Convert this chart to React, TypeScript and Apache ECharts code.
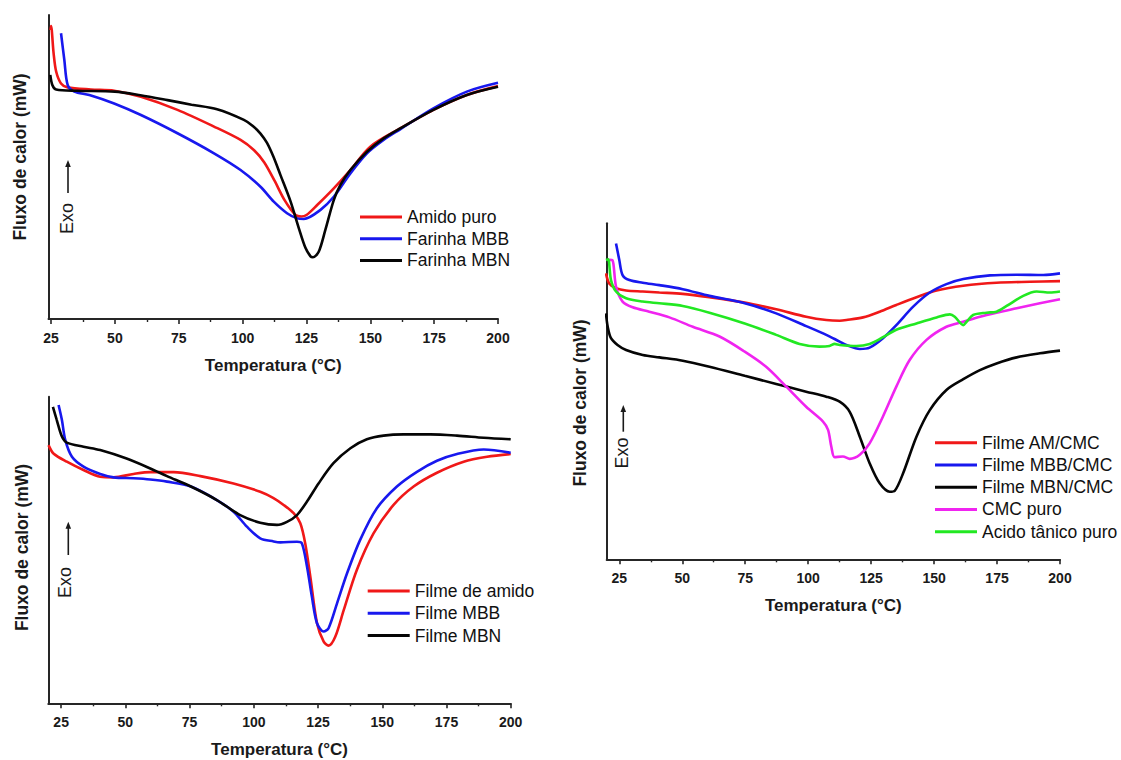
import React, { useEffect, useRef } from "react";
import * as echarts from "echarts";

// ---------- tick values ----------
const majorTicks = [25, 50, 75, 100, 125, 150, 175, 200];
const minorTicks = [37.5, 62.5, 87.5, 112.5, 137.5, 162.5, 187.5];

// ---------- panel 1 : flours ----------
const amidoPuro = [
  [24.8, 95], [25, 96.4], [26, 87.4], [27, 81.4], [28.9, 77.5], [31.5, 76.2], [40.6, 75.5],
  [49.7, 75.1], [60.2, 73.1], [74.5, 68.8], [88.8, 63.3], [99.2, 58.9], [104.5, 55.5],
  [108.5, 51.5], [112.5, 45.5], [116.5, 39], [120.7, 34.2], [123, 33.7], [125, 34.2],
  [129.2, 37.5], [135.7, 43], [142.2, 49], [150, 56.7], [161.7, 62.7], [174.7, 68.8],
  [187.8, 73.7], [200, 76.6],
];
const farinhaMBB = [
  [28.9, 94], [30.2, 85.2], [31.5, 77], [34.1, 74.8], [40, 73.7], [49.7, 70.9], [60.2, 67.1],
  [74.5, 61.1], [88.8, 54.5], [99.2, 49], [107, 43.5], [112.2, 38.6], [117.4, 34.8],
  [121.4, 33.1], [124, 32.9], [130.5, 35.9], [135.7, 40.2], [142.2, 47.9], [148.7, 54.5],
  [155.2, 58.9], [161.7, 62.4], [174.7, 69.3], [187.8, 74.8], [200, 77.7],
];
const farinhaMBN = [
  [24.7, 80.3], [25.5, 77], [27, 75.5], [35, 75.1], [50, 74.8], [60, 73.6], [70.6, 72],
  [80, 70.5], [90, 69], [100.5, 65.5], [104, 63.5], [107, 61], [109.5, 58], [112, 53.5],
  [114.8, 47.4], [118.8, 38.6], [122, 29.9], [124.6, 23.4], [126.6, 20.6], [127.5, 20.3],
  [129.8, 22.1], [132.4, 29.3], [135.7, 39.1], [138.3, 44.1], [142.2, 49], [148.7, 55],
  [155.2, 59.4], [161.7, 62.7], [174.7, 68.8], [187.8, 73.7], [200, 76.4],
];

// ---------- panel 2 : films ----------
const filmeAmido = [
  [20.1, 84.2], [22, 81.5], [27.2, 78.8], [33.7, 76.1], [40.2, 73.9], [45.4, 73.7],
  [53.2, 74.8], [59.7, 75.4], [68.8, 75.4], [79.2, 74.1], [92.1, 71.7], [102.5, 69],
  [107.5, 67], [111.6, 64.7], [115.5, 62], [118.1, 58.7], [120, 52.2], [122, 41.3],
  [124.6, 26.1], [127.2, 20.1], [129.1, 18.8], [131.7, 21.7], [135, 30.4], [140.1, 43.5],
  [146.6, 55.4], [154.4, 64.7], [162.2, 70.7], [171.3, 75.2], [181.7, 78.8], [190.8, 80.4],
  [200, 81.3],
];
const filmeMBB = [
  [24, 97.3], [25.3, 92.4], [26.6, 85.9], [29.2, 80.4], [33.7, 77.2], [40.2, 74.8],
  [45.4, 73.7], [53.2, 73.4], [59.7, 73], [66.2, 72.3], [75.5, 70.7], [85.6, 66.3],
  [92.1, 62.5], [97.3, 57.6], [102.5, 53.8], [107.7, 52.8], [110.3, 52.5], [116.8, 52.7],
  [118.7, 52.2], [120.7, 44.6], [122.6, 34.8], [124.6, 26.1], [127.2, 23.4], [129.1, 24.5],
  [132.4, 32.6], [136.3, 42.4], [141.4, 53.3], [147.9, 63.6], [155.7, 70.7], [163.5, 75.5],
  [171.3, 79.1], [179.1, 81.3], [189.5, 82.8], [200, 81.7],
];
const filmeMBN = [
  [21.8, 96.7], [23.3, 92.4], [25.3, 87], [27.2, 85], [33.7, 83.7], [40.2, 82.6],
  [50.2, 79.9], [59.7, 76.6], [66.2, 74.1], [75.5, 70.7], [85.6, 66.3], [94.7, 61.4],
  [102.5, 58.9], [109, 58.2], [112.9, 59.2], [116.8, 61.4], [120.7, 65.8], [125.2, 71.7],
  [131, 78.3], [137.6, 83.2], [144, 86.1], [150.5, 87.3], [158.3, 87.7], [168.7, 87.7],
  [179.1, 87.3], [189.5, 86.6], [200, 86.1],
];

// ---------- panel 3 : CMC films ----------
const filmeAMCMC = [
  [19.7, 85.1], [21, 82.1], [23.7, 80.7], [27.7, 80], [34.3, 79.7], [40.9, 79.4],
  [50.2, 79], [60.8, 78], [74.8, 76.4], [87.3, 74.4], [99.2, 72.2], [107.2, 71.2],
  [112.5, 71], [115.2, 71.2], [121.8, 72], [128.4, 73.7], [135, 75.7], [143, 78],
  [151, 80], [161.6, 81.4], [174.8, 82.3], [188.1, 82.6], [200, 82.8],
];
const filmeMBBCMC = [
  [23.7, 94], [25, 89.1], [26.3, 84.6], [29, 83.1], [34.3, 82.3], [40.9, 81.6], [50.2, 80.4],
  [60.8, 78.4], [74.8, 76.2], [87.3, 73.2], [99.2, 69.4], [107.2, 66.8], [112.5, 64.8],
  [115.2, 63.8], [120.5, 62.6], [124.4, 63], [129.7, 65.8], [135, 69.7], [141.7, 75.2],
  [148.3, 79.4], [154.9, 81.9], [161.6, 83.4], [172.2, 84.5], [182.8, 84.7], [193.4, 84.6],
  [200, 85.1],
];
const filmeMBNCMC = [
  [19.7, 73.2], [20.4, 69.2], [21.7, 65.8], [24.3, 63.8], [27.7, 62.3], [34.3, 60.8],
  [40.9, 60.1], [50.2, 59.1], [60.8, 57.3], [74.8, 54.6], [87.3, 52.2], [99.2, 49.9],
  [107.2, 48.4], [112.5, 46.9], [116.5, 43.9], [120.5, 36.5], [124.4, 28.6], [128.4, 22.6],
  [132.4, 20.1], [134.4, 20.4], [137.7, 25.6], [143, 36.5], [148.3, 44.4], [154.9, 50.4],
  [161.6, 53.6], [168.2, 56.3], [174.8, 58.3], [182.8, 60.1], [192, 61.3], [200, 62.1],
];
const cmcPuro = [
  [21, 89.1], [22.3, 89], [23.7, 81.2], [26.3, 76.7], [30.3, 75], [36.9, 73.7], [44.9, 72],
  [54.2, 69.2], [64.8, 66.3], [74.8, 61.8], [83.3, 57.3], [91.3, 51.4], [99.2, 45.4],
  [105.9, 41], [107.9, 38.5], [109.2, 33.5], [110.5, 30.4], [113.8, 30.6], [116.5, 29.9],
  [120.5, 31.1], [124.4, 34.5], [129.7, 42.5], [135, 51.4], [140.3, 59.3], [147, 65.3],
  [154.9, 69.2], [161.6, 70.7], [168.2, 72.2], [174.8, 73.4], [182.8, 74.7], [192, 76.2],
  [200, 77.4],
];
const acidoTanico = [
  [19.7, 89.1], [20.6, 89.3], [21.7, 83.1], [23.7, 79.7], [27.7, 77.7], [34.3, 76.7],
  [40.9, 76.2], [50.2, 75.4], [60.8, 73.4], [74.8, 70.2], [87.3, 66.8], [96.6, 64.1],
  [104.5, 63.3], [108.5, 63.5], [110.5, 64.1], [112.5, 63.8], [119.1, 63.5], [124.4, 64.1],
  [129.7, 66.1], [135, 68.3], [143, 70.2], [151, 72], [156.3, 72.9], [158.2, 72.2],
  [161.6, 69.7], [162.9, 70.7], [165.5, 72.7], [170.8, 73.4], [174.8, 73.7], [178.8, 75.4],
  [185.4, 78.4], [190.7, 79.7], [196, 79.4], [200, 79.7],
];

const XTITLE = "Temperatura (°C)";
const YTITLE = "Fluxo de calor (mW)";
const FONT = "'Liberation Sans', Arial, sans-serif";

const RED = "#f01818";
const BLUE = "#1818ee";
const BLACK = "#050505";
const MAGENTA = "#f024f0";
const GREEN = "#22e822";

export default function App() {
  const ref = useRef<HTMLDivElement>(null);

  useEffect(() => {
    if (!ref.current) return;
    const chart = echarts.init(ref.current, undefined, { renderer: "svg" });

    const grids = [
      { left: 48.5, top: 15, width: 449.5, height: 304, min: 24 },
      { left: 48.3, top: 396.7, width: 462.4, height: 306.6, min: 20 },
      { left: 606.7, top: 223.3, width: 453.3, height: 336, min: 20 },
    ];

    const axisColor = "#262626";
    const xAxes: any[] = [];
    grids.forEach((g, i) => {
      xAxes.push({
        type: "value",
        gridIndex: i,
        position: "bottom",
        min: g.min,
        max: 200,
        name: XTITLE,
        nameLocation: "middle",
        nameGap: 38,
        nameTextStyle: { fontFamily: FONT, fontWeight: "bold", fontSize: 17, color: "#1a1a1a" },
        axisLine: { show: true, onZero: false, lineStyle: { color: axisColor, width: 2 } },
        axisTick: { show: true, customValues: majorTicks, length: 5, lineStyle: { color: axisColor, width: 1.6 } },
        axisLabel: {
          show: true,
          customValues: majorTicks,
          margin: 12,
          fontFamily: FONT,
          fontWeight: "bold",
          fontSize: 14,
          color: "#1a1a1a",
        },
        splitLine: { show: false },
      });
      xAxes.push({
        type: "value",
        gridIndex: i,
        position: "bottom",
        min: g.min,
        max: 200,
        axisLine: { show: false, onZero: false },
        axisTick: { show: true, customValues: minorTicks, length: 3, lineStyle: { color: axisColor, width: 1.4 } },
        axisLabel: { show: false },
        splitLine: { show: false },
      });
    });

    const yAxes = grids.map((g, i) => ({
      type: "value",
      gridIndex: i,
      min: 0,
      max: 100,
      axisLine: { show: true, lineStyle: { color: axisColor, width: 2 } },
      axisTick: { show: false },
      axisLabel: { show: false },
      splitLine: { show: false },
    }));

    const mk = (name: string, data: number[][], color: string, panel: number) => ({
      name,
      type: "line",
      xAxisIndex: panel * 2,
      yAxisIndex: panel,
      data,
      showSymbol: false,
      symbol: "none",
      smooth: 0.3,
      lineStyle: { color, width: 2.6 },
      itemStyle: { color },
    });

    const series = [
      mk("Amido puro", amidoPuro, RED, 0),
      mk("Farinha MBB", farinhaMBB, BLUE, 0),
      mk("Farinha MBN", farinhaMBN, BLACK, 0),
      mk("Filme de amido", filmeAmido, RED, 1),
      mk("Filme MBB", filmeMBB, BLUE, 1),
      mk("Filme MBN", filmeMBN, BLACK, 1),
      mk("Filme AM/CMC", filmeAMCMC, RED, 2),
      mk("Filme MBB/CMC", filmeMBBCMC, BLUE, 2),
      mk("Filme MBN/CMC", filmeMBNCMC, BLACK, 2),
      mk("CMC puro", cmcPuro, MAGENTA, 2),
      mk("Acido tânico puro", acidoTanico, GREEN, 2),
    ];

    const legendBase = {
      orient: "vertical",
      icon: "rect",
      itemWidth: 42,
      itemHeight: 3,
      selectedMode: false,
      padding: 0,
      textStyle: { fontFamily: FONT, fontSize: 17.5, color: "#111", lineHeight: 20 },
    };
    const legends = [
      { ...legendBase, data: ["Amido puro", "Farinha MBB", "Farinha MBN"], left: 360, top: 207, itemGap: 1.7 },
      { ...legendBase, data: ["Filme de amido", "Filme MBB", "Filme MBN"], left: 367.7, top: 581, itemGap: 2.3 },
      {
        ...legendBase,
        data: ["Filme AM/CMC", "Filme MBB/CMC", "Filme MBN/CMC", "CMC puro", "Acido tânico puro"],
        left: 935,
        top: 432.7,
        itemGap: 2.25,
      },
    ];

    const yTitle = (x: number, y: number) => ({
      type: "text",
      x,
      y,
      rotation: Math.PI / 2,
      style: {
        text: YTITLE,
        fontFamily: FONT,
        fontWeight: "bold",
        fontSize: 17.5,
        fill: "#1a1a1a",
        align: "center",
        verticalAlign: "middle",
      },
    });
    const exo = (x: number, y: number) => ({
      type: "text",
      x,
      y,
      rotation: Math.PI / 2,
      style: {
        text: "Exo",
        fontFamily: FONT,
        fontSize: 18,
        fill: "#1a1a1a",
        align: "center",
        verticalAlign: "middle",
      },
    });
    const arrow = (x: number, yBottom: number, yTop: number) => [
      {
        type: "line",
        shape: { x1: x, y1: yBottom, x2: x, y2: yTop + 5 },
        style: { stroke: "#1a1a1a", lineWidth: 1.6 },
      },
      {
        type: "polygon",
        shape: { points: [[x, yTop], [x - 2.8, yTop + 7], [x + 2.8, yTop + 7]] },
        style: { fill: "#1a1a1a" },
      },
    ];

    const graphic = [
      yTitle(20, 157),
      yTitle(21.7, 547.5),
      yTitle(580, 403),
      exo(66.7, 218.5),
      exo(65, 582.5),
      exo(621.7, 453),
      ...arrow(68, 193, 160),
      ...arrow(68.3, 555, 521.7),
      ...arrow(623.3, 431.7, 405),
    ];

    chart.setOption({
      animation: false,
      backgroundColor: "#ffffff",
      grid: grids.map((g) => ({
        left: g.left,
        top: g.top,
        width: g.width,
        height: g.height,
        containLabel: false,
        outerBoundsMode: "none",
      })),
      xAxis: xAxes,
      yAxis: yAxes,
      legend: legends,
      series,
      graphic,
    });

    return () => chart.dispose();
  }, []);

  return (
    <div
      ref={ref}
      style={{ position: "fixed", left: 0, top: 0, width: 1121, height: 760, background: "#fff" }}
    />
  );
}
